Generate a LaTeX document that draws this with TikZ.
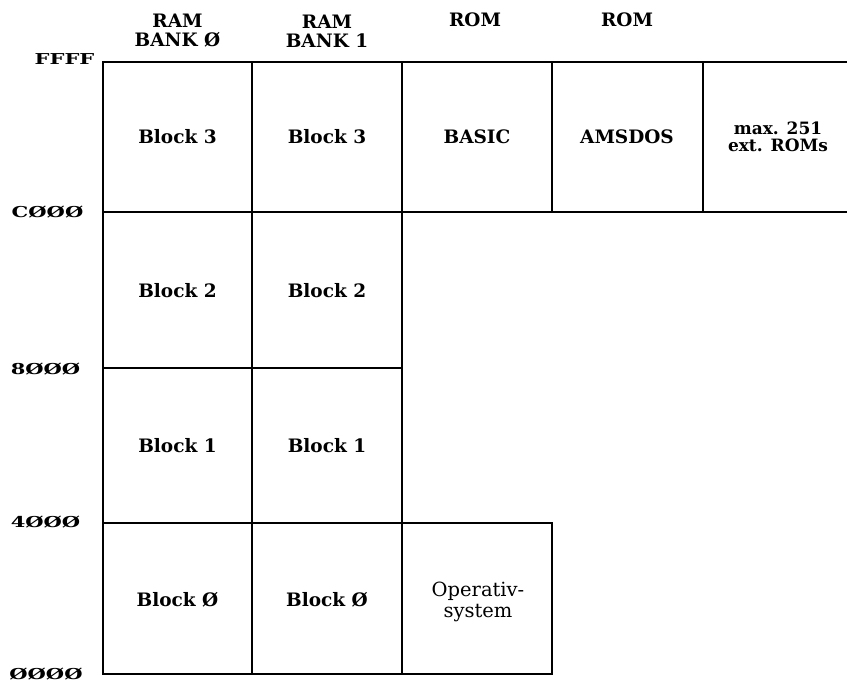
\documentclass[tikz,border=0pt]{standalone}
\usepackage{fontspec}
\setmainfont{DejaVu Serif}
\newfontfamily\addrfont[FakeStretch=1.4]{DejaVu Serif Bold}

\begin{document}
\begin{tikzpicture}[
  x=1pt, y=1pt, line width=1.7pt,
  block/.style={font=\bfseries\fontsize{18.5}{19}\selectfont, align=center},
  addr/.style={font=\addrfont\fontsize{15}{15}\selectfont},
]
\useasboundingbox (0,0) rectangle (847,682);

% RAM-Baenke 0 und 1 (je 4 Bloecke)
\draw (103,8) rectangle (402,620);
\draw (252,8) -- (252,620);
\foreach \y in {159,314,470} \draw (103,\y) -- (402,\y);

% ROMs oben, nach rechts offen
\draw (402,620) -- (847,620);
\draw (402,470) -- (847,470);
\draw (552,470) -- (552,620);
\draw (703,470) -- (703,620);

% Betriebssystem-ROM unten
\draw (402,8) rectangle (552,159);

% Spaltenkoepfe
\node[block] (bank0) at (177.5,651) {RAM\\BANK Ø};
\node[block] (bank1) at (327,651) {RAM\\BANK 1};
\node[block] (rom1) at (475,662) {ROM};
\node[block] (rom2) at (627,662) {ROM};

% Adressen
\node[addr] (aFFFF) at (64.5,623) {FFFF};
\node[addr] (aC000) at (47.5,469.5) {CØØØ};
\node[addr] (a8000) at (45.5,313) {8ØØØ};
\node[addr] (a4000) at (45.5,159.5) {4ØØØ};
\node[addr] (a0000) at (46,8) {ØØØØ};

% Bloecke der beiden RAM-Baenke
\foreach \x/\k in {177.5/0, 327/1} {
  \node[block] (blk3-\k) at (\x,545) {Block 3};
  \node[block] (blk2-\k) at (\x,391) {Block 2};
  \node[block] (blk1-\k) at (\x,236) {Block 1};
  \node[block] (blk0-\k) at (\x,82) {Block Ø};
}

% ROM-Inhalte
\node[block] (basic) at (477,545) {BASIC};
\node[block] (amsdos) at (627,545) {AMSDOS};
\node[block, font=\bfseries\fontsize{17}{17}\selectfont] (extrom) at (778,545) {max. 251\\ext. ROMs};
\node[font=\fontsize{19.5}{21}\selectfont, align=center] (os) at (478,80) {Operativ-\\system};

\end{tikzpicture}
\end{document}
